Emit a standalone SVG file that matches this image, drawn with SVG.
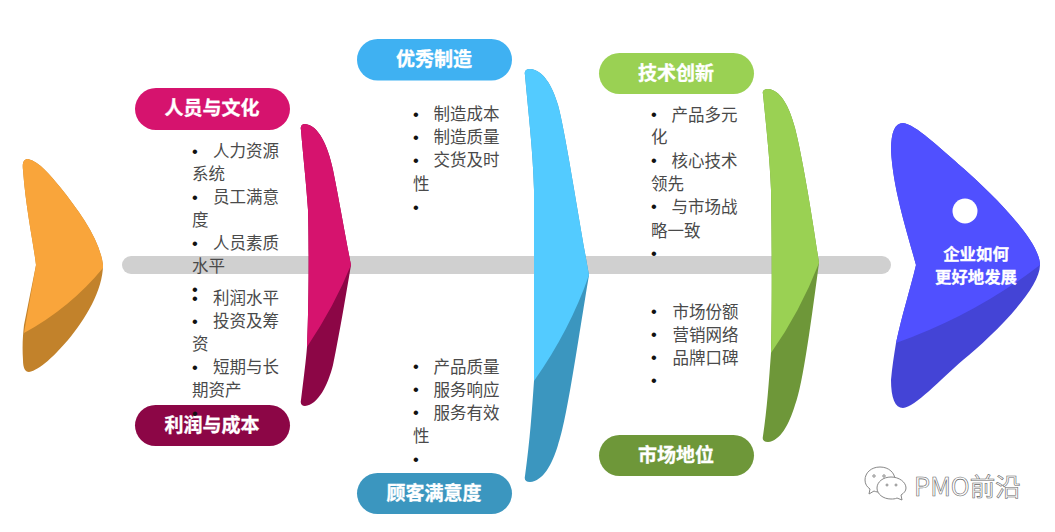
<svg xmlns="http://www.w3.org/2000/svg" width="1055" height="532" viewBox="0 0 1055 532">
<style>
text{font-family:"Noto Sans CJK SC","Noto Sans",sans-serif}
.t{font-size:16.5px;fill:#4a4a4a}
.b{font-size:16.5px;fill:#111;font-family:"Liberation Sans",sans-serif}
.p{font-size:19px;font-weight:700;fill:#fff;stroke:#fff;stroke-width:.3;text-anchor:middle}
.h{font-size:16.4px;font-weight:700;fill:#fff;stroke:#fff;stroke-width:.3;text-anchor:middle}
.w{font-size:25.500px;fill:#fff;stroke:#666;stroke-width:.6}
.i{fill:#fff;stroke:#888;stroke-width:1}
</style>
<rect width="1055" height="532" fill="#fff"/>
<g id="connectors"><rect x="122" y="256" width="769" height="18" rx="9" fill="#d0d0d0"/></g>
<g id="tail">
<path fill="#c2822b" d="M23,170C22,162 24,159 28,159C40,162 50,175 60,187C80,212 100,240 103,265C103,290 85,320 68,340C55,355 40,370 29,372C25,372 23,368 23,360C22,345 23,335 24,325L36,265C33,240 26,210 23,170Z"/>
<path fill="#f9a53b" d="M23,170C22,162 24,159 28,159C40,162 50,175 60,187C80,212 100,240 103,265L103,268Q70,308 24,333L36,265C33,240 26,210 23,170Z"/>
</g>
<g id="wing-people">
<path fill="#8c0646" d="M301,130C300,126 302,124 305,124C318,125 328,145 333,170C340,205 346,240 351,265C346,295 340,330 333,365C328,385 318,405 305,406C302,406 300,404 301,400C304,375 306,360 307,347C309,300 309,240 308,210C306,180 303,155 301,130Z"/>
<path fill="#d6136e" d="M301,130C300,126 302,124 305,124C318,125 328,145 333,170C340,205 346,240 351,265Q335,305 307,347C309,300 309,240 308,210C306,180 303,155 301,130Z"/>
</g>
<g id="list-people">
<text class="b" x="192" y="157">•</text><text class="t" x="213" y="157">人力资源</text>
<text class="t" x="192" y="180">系统</text>
<text class="b" x="192" y="203">•</text><text class="t" x="213" y="203">员工满意</text>
<text class="t" x="192" y="226">度</text>
<text class="b" x="192" y="249">•</text><text class="t" x="213" y="249">人员素质</text>
<text class="t" x="192" y="272">水平</text>
<text class="b" x="192" y="295">•</text>
<text class="b" x="192" y="304">•</text><text class="t" x="213" y="304">利润水平</text>
<text class="b" x="192" y="327">•</text><text class="t" x="213" y="327">投资及筹</text>
<text class="t" x="192" y="350">资</text>
<text class="b" x="192" y="373">•</text><text class="t" x="213" y="373">短期与长</text>
<text class="t" x="192" y="396">期资产</text>
</g>
<g id="pill-people"><rect x="135" y="88" width="155" height="42" rx="21" fill="#d6136e"/><text class="p" x="212" y="115">人员与文化</text></g>
<g id="pill-profit"><rect x="135" y="405" width="155" height="41" rx="20.500" fill="#8c0646"/><text class="p" x="212" y="432">利润与成本</text></g>
<text class="b" x="192" y="419">•</text>
<g id="wing-mfg">
<path fill="#3b96bf" d="M525,75C524,71 526,69 530,69C543,70 552,85 558,105C565,130 578,215 589,275C578,340 567,420 558,445C552,465 543,481 530,482C526,482 524,480 525,476C530,440 532,410 534,381C534,340 534,240 534,190C533,150 528,110 525,75Z"/>
<path fill="#53cbff" d="M525,75C524,71 526,69 530,69C543,70 552,85 558,105C565,130 578,215 589,275Q570,330 534,381C534,340 534,240 534,190C533,150 528,110 525,75Z"/>
</g>
<g id="list-mfg">
<text class="b" x="413" y="120">•</text><text class="t" x="433.500" y="120">制造成本</text>
<text class="b" x="413" y="143">•</text><text class="t" x="433.500" y="143">制造质量</text>
<text class="b" x="413" y="166">•</text><text class="t" x="433.500" y="166">交货及时</text>
<text class="t" x="413" y="190">性</text>
<text class="b" x="413" y="213">•</text>
<text class="b" x="413" y="372">•</text><text class="t" x="433.500" y="373">产品质量</text>
<text class="b" x="413" y="395">•</text><text class="t" x="433.500" y="396">服务响应</text>
<text class="b" x="413" y="418">•</text><text class="t" x="433.500" y="419">服务有效</text>
<text class="t" x="413" y="442">性</text>
<text class="b" x="413" y="465">•</text>
</g>
<g id="pill-mfg"><rect x="357" y="39" width="155" height="41.500" rx="20.700" fill="#3fb1f2"/><text class="p" x="434" y="66">优秀制造</text></g>
<g id="pill-cust"><rect x="357" y="473" width="155" height="41" rx="20.500" fill="#3b96bf"/><text class="p" x="434" y="500">顾客满意度</text></g>
<g id="wing-tech">
<path fill="#6e9739" d="M763,94C762,91 764,89 768,89C780,90 789,105 795,128C802,155 812,215 819,263C812,315 803,385 795,405C789,425 780,441 768,442C764,442 762,440 763,436C767,410 769,380 771,353C772,320 772,240 771,190C770,160 766,125 763,94Z"/>
<path fill="#9ad153" d="M763,94C762,91 764,89 768,89C780,90 789,105 795,128C802,155 812,215 819,263Q800,312 771,353C772,320 772,240 771,190C770,160 766,125 763,94Z"/>
</g>
<g id="list-tech">
<text class="b" x="651" y="120">•</text><text class="t" x="671.500" y="121">产品多元</text>
<text class="t" x="651" y="143">化</text>
<text class="b" x="651" y="166">•</text><text class="t" x="671.500" y="167">核心技术</text>
<text class="t" x="651" y="190">领先</text>
<text class="b" x="651" y="212">•</text><text class="t" x="671.500" y="213">与市场战</text>
<text class="t" x="651" y="237">略一致</text>
<text class="b" x="651" y="259">•</text>
<text class="b" x="651" y="317">•</text><text class="t" x="672.500" y="318">市场份额</text>
<text class="b" x="651" y="340">•</text><text class="t" x="672.500" y="341">营销网络</text>
<text class="b" x="651" y="363">•</text><text class="t" x="672.500" y="364">品牌口碑</text>
<text class="b" x="651" y="386">•</text>
</g>
<g id="pill-tech"><rect x="599" y="53" width="155" height="41" rx="20.500" fill="#9ad153"/><text class="p" x="676" y="80">技术创新</text></g>
<g id="pill-market"><rect x="599" y="435" width="155" height="41" rx="20.500" fill="#6e9739"/><text class="p" x="676" y="462">市场地位</text></g>
<g id="head">
<path fill="#4444d6" d="M891,150C891,132 895,123 903,123C915,124 940,148 963,168C990,192 1040,240 1040,265C1040,290 990,338 963,360C940,380 915,407 903,408C895,408 891,398 891,380C892,368 894,355 896,343C902,315 910,290 916,265C908,235 893,190 891,150Z"/>
<path fill="#5050ff" d="M891,150C891,132 895,123 903,123C915,124 940,148 963,168C990,192 1040,240 1040,265Q975,315 896,343C902,315 910,290 916,265C908,235 893,190 891,150Z"/>
<circle cx="965" cy="211" r="12.500" fill="#fff"/>
<text class="h" x="976" y="260">企业如何</text>
<text class="h" x="976" y="283">更好地发展</text>
</g>
<g id="watermark">
<path class="i" d="M880,467C871,467 865,473 865,480C865,484 867,487 870,489L869,494L874,491C876,492 878,492 880,492C889,492 895,486 895,480C895,473 889,467 880,467Z"/>
<path class="i" d="M891,477C883,477 877,482 877,488C877,494 883,499 891,499C893,499 895,499 897,498L902,500L901,495C904,493 906,491 906,488C906,482 899,477 891,477Z"/>
<circle class="i" cx="874" cy="476" r="1.200"/><circle class="i" cx="884" cy="476" r="1.200"/>
<circle class="i" cx="887" cy="485" r="1"/><circle class="i" cx="896" cy="485" r="1"/>
<text class="w" x="914" y="496">PMO前沿</text>
</g>
</svg>
